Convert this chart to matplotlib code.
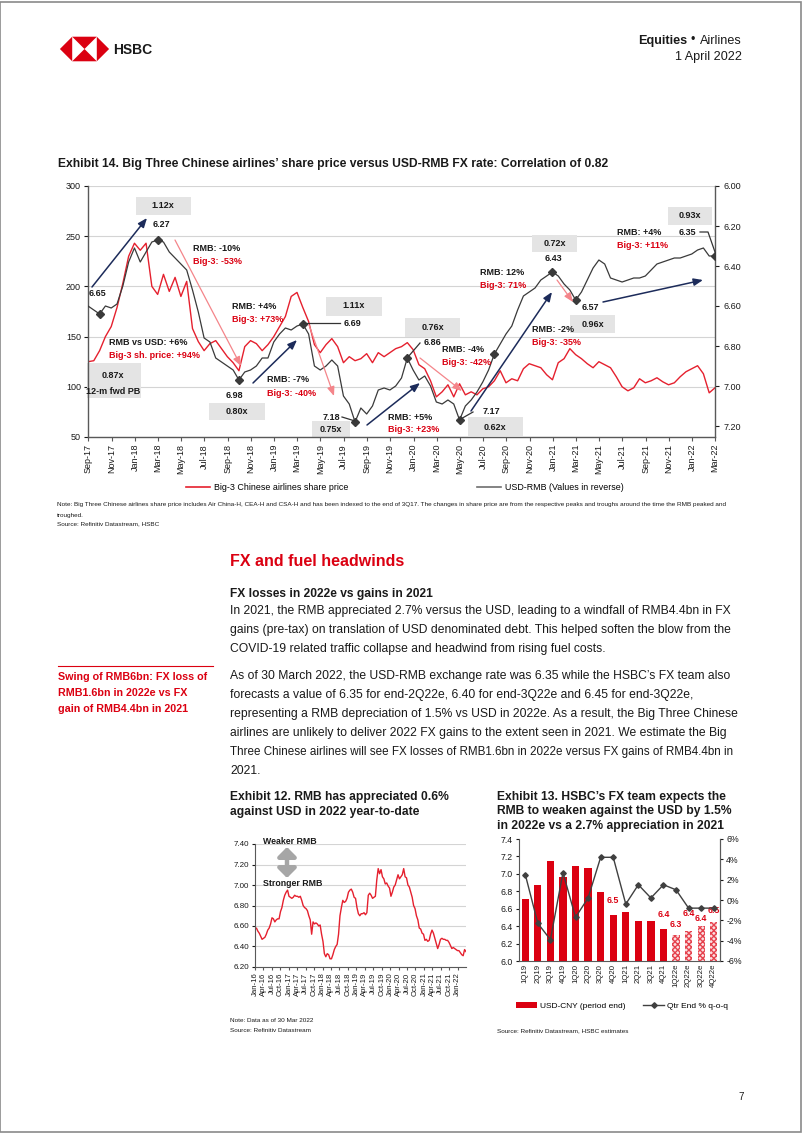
import matplotlib
matplotlib.use('Agg')
import matplotlib.pyplot as plt
import matplotlib.ticker as mticker
from matplotlib.patches import Polygon, Rectangle, Patch
from matplotlib.lines import Line2D
from matplotlib.textpath import TextPath
from matplotlib.font_manager import FontProperties
import numpy as np
import pandas as pd

# ======================= DATA =======================
# Exhibit 14: Big-3 share price (indexed) and USD-RMB, end-Sep-17 .. end-Mar-22 (semi-monthly)
share_price = [125, 126, 136, 150, 160, 179, 203, 230, 243, 236,
               243, 200, 192, 212, 195, 209, 190, 205, 158, 145,
               136, 143, 146, 138, 130, 124, 116, 140, 146, 143,
               136, 142, 150, 160, 170, 190, 194, 179, 165, 142,
               134, 142, 148, 140, 124, 130, 126, 128, 133, 124,
               134, 130, 134, 138, 140, 144, 137, 122, 118, 106,
               90, 95, 102, 90, 103, 92, 95, 92, 98, 100,
               106, 116, 104, 108, 106, 118, 123, 121, 119, 112,
               107, 124, 128, 138, 132, 128, 123, 119, 125, 122,
               119, 110, 100, 96, 99, 108, 104, 106, 109, 105,
               102, 104, 110, 115, 118, 121, 113, 94, 99]
usd_rmb = [6.60, 6.62, 6.64, 6.60, 6.61, 6.59, 6.50, 6.38, 6.31, 6.38,
           6.33, 6.28, 6.27, 6.28, 6.33, 6.36, 6.39, 6.42, 6.52, 6.63,
           6.76, 6.78, 6.86, 6.88, 6.90, 6.92, 6.97, 6.93, 6.92, 6.90,
           6.86, 6.86, 6.78, 6.74, 6.71, 6.72, 6.70, 6.69, 6.74, 6.90,
           6.92, 6.90, 6.87, 6.90, 7.05, 7.09, 7.18, 7.11, 7.14, 7.10,
           7.02, 7.01, 7.02, 7.00, 6.96, 6.86, 6.92, 6.97, 6.95, 7.00,
           7.08, 7.09, 7.07, 7.09, 7.17, 7.10, 7.07, 7.03, 6.98, 6.92,
           6.84, 6.79, 6.74, 6.70, 6.62, 6.55, 6.53, 6.51, 6.47, 6.45,
           6.43, 6.45, 6.49, 6.52, 6.57, 6.53, 6.47, 6.41, 6.37, 6.39,
           6.46, 6.47, 6.48, 6.47, 6.46, 6.46, 6.45, 6.42, 6.39, 6.38,
           6.37, 6.36, 6.36, 6.35, 6.34, 6.32, 6.31, 6.35, 6.35]
ex14_start, ex14_end = '2017-09-29', '2022-03-31'
diamond_idx = [2, 12, 26, 37, 46, 55, 64, 70, 80, 84, 108]

# Exhibit 12: USD-CNY, Jan-16 .. Mar-22 (semi-monthly)
ex12_usdcny = [6.57, 6.58, 6.55, 6.53, 6.50, 6.47, 6.48, 6.49, 6.52, 6.56, 6.58, 6.62,
               6.68, 6.67, 6.64, 6.66, 6.67, 6.67, 6.74, 6.78, 6.85, 6.90, 6.93, 6.95,
               6.89, 6.88, 6.87, 6.88, 6.90, 6.89, 6.89, 6.88, 6.89, 6.85, 6.80, 6.78,
               6.77, 6.75, 6.70, 6.66, 6.52, 6.64, 6.62, 6.63, 6.62, 6.60, 6.61, 6.52,
               6.45, 6.33, 6.30, 6.33, 6.32, 6.28, 6.28, 6.32, 6.37, 6.40, 6.42, 6.52,
               6.70, 6.78, 6.85, 6.83, 6.84, 6.87, 6.93, 6.95, 6.96, 6.93, 6.88, 6.87,
               6.78, 6.72, 6.70, 6.72, 6.72, 6.73, 6.71, 6.73, 6.90, 6.92, 6.90, 6.87,
               6.88, 6.89, 7.05, 7.16, 7.11, 7.15, 7.08, 7.06, 7.01, 7.02, 6.99, 6.97,
               6.89, 6.93, 6.98, 7.00, 7.05, 7.10, 7.06, 7.08, 7.10, 7.16, 7.08, 7.07,
               7.00, 6.98, 6.93, 6.88, 6.80, 6.77, 6.70, 6.66, 6.58, 6.57, 6.53, 6.52,
               6.46, 6.47, 6.45, 6.46, 6.52, 6.56, 6.53, 6.48, 6.43, 6.38, 6.42, 6.47,
               6.48, 6.47, 6.47, 6.46, 6.46, 6.44, 6.41, 6.38, 6.39, 6.38, 6.37, 6.36,
               6.36, 6.34, 6.32, 6.31, 6.37, 6.35]
ex12_start, ex12_end = '2016-01-01', '2022-03-31'

# Exhibit 13: quarter-end USD-CNY and q-o-q change
quarters = ['1Q19', '2Q19', '3Q19', '4Q19', '1Q20', '2Q20', '3Q20', '4Q20',
            '1Q21', '2Q21', '3Q21', '4Q21', '1Q22e', '2Q22e', '3Q22e', '4Q22e']
usd_cny_qe = [6.71, 6.87, 7.15, 6.96, 7.09, 7.07, 6.79, 6.53,
              6.56, 6.46, 6.46, 6.37, 6.30, 6.35, 6.40, 6.45]
qoq_pct = [2.5, -2.3, -3.9, 2.7, -1.7, 0.2, 4.2, 4.2,
           -0.4, 1.5, 0.2, 1.5, 1.0, -0.8, -0.8, -0.8]
bar_value_labels = ['', '', '', '', '', '', '', '6.5',
                    '', '', '', '6.4', '6.3', '6.4', '6.4', '6.5']
n_actual = 12

# ======================= STYLE / LAYOUT =======================
W, H, DPI = 802, 1133, 100
BASE = ['Liberation Sans', 'DejaVu Sans']
plt.rcParams['font.family'] = BASE
RED = '#db0011'
LRED = '#e5202e'
NAVY = '#1c2b5a'
SALMON = '#f4858a'
BOX = '#e4e4e4'
TXT = '#1a1a1a'
AXC = '#595959'

fig = plt.figure(figsize=(W / DPI, H / DPI), dpi=DPI)
fig.patch.set_facecolor('white')


def fx(px):
    return px / W


def fy(py):
    return 1 - py / H


def ftext(px, py, s, **kw):
    kw.setdefault('va', 'center')
    kw.setdefault('color', TXT)
    return fig.text(fx(px), fy(py), s, **kw)


def add_axes_px(l, t, r, b):
    return fig.add_axes([fx(l), fy(b), (r - l) / W, (b - t) / H])


def fit(text, target_px, weight='normal'):
    fp = FontProperties(family=BASE, weight=weight, size=10)
    w = TextPath((0, 0), text, prop=fp).get_extents().width
    return 10 * target_px / (w * DPI / 72)


# page border
fig.add_artist(Rectangle((0.0005, 0.0005), 0.998, 0.998, transform=fig.transFigure,
                         fill=False, edgecolor='#8a8a8a', lw=1.2))

# ---------------- header ----------------
cx, cy, s = 84.5, 49, 12.3
tris = [[(cx - s, cy - s), (cx - s, cy + s), (cx - 2 * s, cy)],
        [(cx + s, cy - s), (cx + s, cy + s), (cx + 2 * s, cy)],
        [(cx - s, cy - s), (cx + s, cy - s), (cx, cy)],
        [(cx - s, cy + s), (cx + s, cy + s), (cx, cy)]]
for t in tris:
    fig.add_artist(Polygon([(fx(a), fy(b)) for a, b in t], closed=True,
                           transform=fig.transFigure, facecolor=RED, edgecolor='none'))
ftext(113, 49.5, 'HSBC', fontsize=fit('HSBC', 38, 'bold'), fontweight='bold', ha='left')
hs = fit('1 April 2022', 65)
ftext(742, 41, 'Airlines', fontsize=hs, ha='right')
ftext(693, 40.5, '\u2022', fontsize=hs, ha='center')
ftext(687, 41, 'Equities', fontsize=hs, ha='right', fontweight='bold')
ftext(742, 57, '1 April 2022', fontsize=hs, ha='right')

# ---------------- Exhibit 14 ----------------
t14 = 'Exhibit 14. Big Three Chinese airlines\u2019 share price versus USD-RMB FX rate: Correlation of 0.82'
ftext(58, 164, t14, fontsize=fit(t14, 547, 'bold'), fontweight='bold', ha='left')

L14, R14, T14, B14 = 88, 715, 186, 437
ax1 = add_axes_px(L14, T14, R14, B14)
d14 = pd.date_range(ex14_start, ex14_end, periods=len(share_price))
l_red, = ax1.plot(d14, share_price, color=LRED, lw=1.0, zorder=2.5)
ax1.set_xlim(d14[0], d14[-1])
ax1.set_ylim(50, 300)
ax1.set_yticks(range(50, 301, 50))
ax1.grid(axis='y', color='#d4d4d4', lw=0.8, zorder=0.5)
ax1.set_axisbelow(True)
xt = pd.date_range('2017-09-30', '2022-03-31', freq='2ME')
ax1.set_xticks(xt)
ax1.set_xticklabels([d.strftime('%b-%y') for d in xt], rotation=90, fontsize=6.5, color=TXT)
ax1.tick_params(axis='y', labelsize=6.5, colors=TXT, length=3, width=0.8, pad=2)
ax1.tick_params(axis='x', length=3, width=0.8, pad=2, color=AXC)
for sp in ['top', 'right']:
    ax1.spines[sp].set_visible(False)
for sp in ['left', 'bottom']:
    ax1.spines[sp].set_color(AXC)
    ax1.spines[sp].set_linewidth(1.0)

ax2 = ax1.twinx()
l_blk, = ax2.plot(d14, usd_rmb, color='#3a3a3a', lw=0.9, zorder=3)
ax2.plot(d14[diamond_idx], np.array(usd_rmb)[diamond_idx], 'D', color='#3a3a3a',
         ms=3.8, zorder=4)
ax2.set_ylim(7.255, 6.0)
ax2.set_yticks(np.round(np.arange(6.0, 7.21, 0.2), 2))
ax2.yaxis.set_major_formatter(mticker.FormatStrFormatter('%.2f'))
ax2.tick_params(axis='y', labelsize=6.5, colors=TXT, length=3, width=0.8, pad=3)
for sp in ['top', 'left', 'bottom']:
    ax2.spines[sp].set_visible(False)
ax2.spines['right'].set_color(AXC)
ax2.spines['right'].set_linewidth(1.0)


def A(px, py):
    return ((px - L14) / (R14 - L14), (B14 - py) / (B14 - T14))


def box(x0, y0, x1, y1):
    a = A(x0, y1)
    ax1.add_patch(Rectangle(a, (x1 - x0) / (R14 - L14), (y1 - y0) / (B14 - T14),
                            transform=ax1.transAxes, facecolor=BOX, edgecolor='none',
                            zorder=1.6, clip_on=False))


def lab(px, py, s, color=TXT, ha='center', size=6.5):
    ax2.text(*A(px, py), s, transform=ax2.transAxes, ha=ha, va='center', color=color,
             fontsize=size, fontweight='bold', zorder=6, clip_on=False)


def arrow(p0, p1, color, lw=1.1):
    ax2.annotate('', xy=A(*p1), xytext=A(*p0), xycoords='axes fraction',
                 textcoords='axes fraction', zorder=5,
                 arrowprops=dict(arrowstyle='-|>,head_length=0.55,head_width=0.22',
                                 color=color, lw=lw, shrinkA=0, shrinkB=0))


def leader(pts):
    xs, ys = zip(*[A(a, b) for a, b in pts])
    ax2.plot(xs, ys, color='#333333', lw=0.9, transform=ax2.transAxes, clip_on=False, zorder=5)


# grey multiple boxes
for (x0, y0, x1, y1), txt, tx, ty in [
        ((136, 197, 191, 215), '1.12x', 163, 206),
        ((87, 363, 141, 398), '0.87x', 113, 376),
        ((209, 403, 265, 420), '0.80x', 237, 411),
        ((326, 297, 382, 316), '1.11x', 354, 306),
        ((312, 421, 350, 437), '0.75x', 331, 430),
        ((405, 318, 460, 337), '0.76x', 433, 328),
        ((468, 417, 523, 436), '0.62x', 495, 427),
        ((532, 235, 577, 252), '0.72x', 555, 244),
        ((570, 315, 615, 333), '0.96x', 593, 325),
        ((668, 207, 712, 225), '0.93x', 690, 216)]:
    box(x0, y0, x1, y1)
    lab(tx, ty, txt)
lab(113, 391, '12-m fwd PB')

# FX level labels
for tx, ty, txt in [(97, 294, '6.65'), (161, 225, '6.27'), (234, 395, '6.98'),
                    (353, 324, '6.69'), (331, 417, '7.18'), (433, 343, '6.86'),
                    (491, 412, '7.17'), (553, 259, '6.43'), (590, 308, '6.57'),
                    (687, 233, '6.35')]:
    lab(tx, ty, txt)
leader([(303, 323), (340, 323)])
leader([(342, 417), (355, 421)])
leader([(420, 343), (408, 357)])
leader([(473, 412), (459, 420)])
leader([(700, 232), (708, 232), (715, 252)])

# change labels
for tx, ty, r, b in [(193, 249, 'RMB: -10%', 'Big-3: -53%'),
                     (232, 307, 'RMB: +4%', 'Big-3: +73%'),
                     (109, 343, 'RMB vs USD: +6%', 'Big-3 sh. price: +94%'),
                     (267, 380, 'RMB: -7%', 'Big-3: -40%'),
                     (388, 417, 'RMB: +5%', 'Big-3: +23%'),
                     (442, 350, 'RMB: -4%', 'Big-3: -42%'),
                     (480, 273, 'RMB: 12%', 'Big-3: 71%'),
                     (532, 330, 'RMB: -2%', 'Big-3: -35%'),
                     (617, 233, 'RMB: +4%', 'Big-3: +11%')]:
    lab(tx, ty, r, ha='left')
    lab(tx, ty + 13, b, color=RED, ha='left')

# arrows
arrow((92, 287), (147, 218), NAVY)
arrow((253, 383), (297, 340), NAVY)
arrow((367, 425), (420, 383), NAVY)
arrow((471, 411), (552, 292), NAVY)
arrow((603, 302), (703, 280), NAVY)
arrow((175, 240), (241, 366), SALMON, lw=0.9)
arrow((309, 325), (334, 396), SALMON, lw=0.9)
arrow((420, 358), (462, 391), SALMON, lw=0.9)
arrow((557, 280), (573, 302), SALMON, lw=0.9)

lg_fs = fit('Big-3 Chinese airlines share price', 131)
em = lg_fs * DPI / 72
h_red = Line2D([], [], color=LRED, lw=1.2)
h_blk = Line2D([], [], color='#6e6e6e', lw=1.2)
ax1.legend([h_red, h_blk], ['Big-3 Chinese airlines share price', 'USD-RMB (Values in reverse)'],
           loc='center', bbox_to_anchor=A(405, 488), ncol=2, frameon=False, fontsize=lg_fs,
           handlelength=24 / em, handletextpad=4 / em, columnspacing=129 / em,
           borderpad=0, borderaxespad=0)

note1 = ('Note: Big Three Chinese airlines share price includes Air China-H, CEA-H and CSA-H and has been '
         'indexed to the end of 3Q17. The changes in share price are from the respective peaks and troughs '
         'around the time the RMB peaked and')
nfs = fit(note1, 666)
ftext(57, 505, note1, fontsize=nfs, ha='left')
ftext(57, 515, 'troughed.', fontsize=nfs, ha='left')
ftext(57, 524, 'Source: Refinitiv Datastream, HSBC', fontsize=nfs, ha='left')

# ---------------- text section ----------------
ftext(230, 561, 'FX and fuel headwinds', fontsize=fit('FX and fuel headwinds', 172, 'bold'),
      fontweight='bold', color=RED, ha='left')
ftext(230, 594, 'FX losses in 2022e vs gains in 2021',
      fontsize=fit('FX losses in 2022e vs gains in 2021', 202, 'bold'), fontweight='bold', ha='left')
# (line, right edge of the line in the page) -- full lines are fitted to their measured extent
body1 = [('In 2021, the RMB appreciated 2.7% versus the USD, leading to a windfall of RMB4.4bn in FX', 727),
         ('gains (pre-tax) on translation of USD denominated debt. This helped soften the blow from the', 727),
         ('COVID-19 related traffic collapse and headwind from rising fuel costs.', None)]
body2 = [('As of 30 March 2022, the USD-RMB exchange rate was 6.35 while the HSBC\u2019s FX team also', 727),
         ('forecasts a value of 6.35 for end-2Q22e, 6.40 for end-3Q22e and 6.45 for end-3Q22e,', None),
         ('representing a RMB depreciation of 1.5% vs USD in 2022e. As a result, the Big Three Chinese', 735),
         ('airlines are unlikely to deliver 2022 FX gains to the extent seen in 2021. We estimate the Big', 723),
         ('Three Chinese airlines will see FX losses of RMB1.6bn in 2022e versus FX gains of RMB4.4bn in', 729),
         ('2021.', None)]
bfs = fit(body1[0][0], 497)


def body_line(px, py, line, right):
    size = bfs if right is None else fit(line, right - px)
    ftext(px, py, line, fontsize=size, ha='left')


for i, (line, r) in enumerate(body1):
    body_line(230, 611 + 19 * i, line, r)
for i, (line, r) in enumerate(body2):
    body_line(230, 676 + 19 * i, line, r)

fig.add_artist(Line2D([fx(58), fx(213)], [fy(666), fy(666)], color=RED, lw=0.8,
                      transform=fig.transFigure))
margin = ['Swing of RMB6bn: FX loss of', 'RMB1.6bn in 2022e vs FX', 'gain of RMB4.4bn in 2021']
mfs = fit(margin[0], 149, 'bold')
for i, line in enumerate(margin):
    ftext(58, 677 + 16 * i, line, fontsize=mfs, ha='left', fontweight='bold', color=RED)

# ---------------- Exhibit 12 ----------------
e12 = ['Exhibit 12. RMB has appreciated 0.6%', 'against USD in 2022 year-to-date']
e12fs = fit(e12[0], 217, 'bold')
for i, line in enumerate(e12):
    ftext(230, 797 + 15.5 * i, line, fontsize=e12fs, fontweight='bold', ha='left')

L12, R12, T12, B12 = 255, 466, 844, 967
ax12 = add_axes_px(L12, T12, R12, B12)
d12 = pd.date_range(ex12_start, ex12_end, periods=len(ex12_usdcny))
ax12.plot(d12, ex12_usdcny, color=LRED, lw=1.0)
ax12.set_xlim(pd.Timestamp(ex12_start), pd.Timestamp(ex12_end))
ax12.set_ylim(6.2, 7.4)
ax12.set_yticks(np.round(np.arange(6.2, 7.41, 0.2), 2))
ax12.yaxis.set_major_formatter(mticker.FormatStrFormatter('%.2f'))
ax12.grid(axis='y', color='#d4d4d4', lw=0.8)
ax12.set_axisbelow(True)
xt12 = pd.date_range('2016-01-01', '2022-01-01', freq='QS')
ax12.set_xticks(xt12)
ax12.set_xticklabels([d.strftime('%b-%y') for d in xt12], rotation=90, fontsize=5.6, color=TXT)
ax12.tick_params(axis='y', labelsize=5.8, colors=TXT, length=2.5, width=0.8, pad=2)
ax12.tick_params(axis='x', length=2.5, width=0.8, pad=1.5, color=AXC)
for sp in ['top', 'right']:
    ax12.spines[sp].set_visible(False)
for sp in ['left', 'bottom']:
    ax12.spines[sp].set_color(AXC)


def A12(px, py):
    return ((px - L12) / (R12 - L12), (B12 - py) / (B12 - T12))


ax12.text(*A12(263, 841), 'Weaker RMB', transform=ax12.transAxes, fontsize=6.3,
          fontweight='bold', ha='left', va='center', color=TXT, clip_on=False)
ax12.text(*A12(263, 884), 'Stronger RMB', transform=ax12.transAxes, fontsize=6.3,
          fontweight='bold', ha='left', va='center', color=TXT, clip_on=False)
ax12.annotate('', xy=A12(287, 847), xytext=A12(287, 878), xycoords='axes fraction',
              textcoords='axes fraction',
              arrowprops=dict(arrowstyle='<|-|>,head_length=0.55,head_width=0.55',
                              color='#a6a6a6', lw=3.2, shrinkA=0, shrinkB=0,
                              mutation_scale=10))
ftext(230, 1021, 'Note: Data as of 30 Mar 2022', fontsize=nfs, ha='left')
ftext(230, 1031, 'Source: Refinitiv Datastream', fontsize=nfs, ha='left')

# ---------------- Exhibit 13 ----------------
e13 = ['Exhibit 13. HSBC\u2019s FX team expects the', 'RMB to weaken against the USD by 1.5%',
       'in 2022e vs a 2.7% appreciation in 2021']
e13fs = fit(e13[0], 228, 'bold')
for i, line in enumerate(e13):
    ftext(497, 797 + 14.3 * i, line, fontsize=e13fs, fontweight='bold', ha='left')

L13, R13, T13, B13 = 519, 720, 839, 961
ax13 = add_axes_px(L13, T13, R13, B13)
xq = np.arange(len(quarters))
b_act = ax13.bar(xq[:n_actual], usd_cny_qe[:n_actual], width=0.58, color=RED, zorder=2)
b_fc = ax13.bar(xq[n_actual:], usd_cny_qe[n_actual:], width=0.58, facecolor='#fbdfe1',
                edgecolor='#e5414d', hatch='xxxxxx', linewidth=0, zorder=2)
ax13.set_xlim(-0.5, len(quarters) - 0.5)
ax13.set_ylim(6.0, 7.4)
ax13.set_yticks(np.round(np.arange(6.0, 7.41, 0.2), 1))
ax13.yaxis.set_major_formatter(mticker.FormatStrFormatter('%.1f'))
ax13.set_xticks(xq)
ax13.set_xticklabels(quarters, rotation=90, fontsize=5.6, color=TXT)
ax13.tick_params(axis='y', labelsize=6.3, colors=TXT, length=2.5, width=0.8, pad=2)
ax13.tick_params(axis='x', length=0, pad=2)
ax13.spines['top'].set_visible(False)
for sp in ['left', 'bottom', 'right']:
    ax13.spines[sp].set_color(AXC)
label_offsets = [0, 0, 0, 0, 0, 0, 0, 7, 0, 0, 0, 7, 4, 9, 2, 5]
for i, txt in enumerate(bar_value_labels):
    if txt:
        ax13.annotate(txt, (xq[i], usd_cny_qe[i]), xytext=(0, label_offsets[i]),
                      textcoords='offset points', ha='center', va='bottom', color=RED,
                      fontsize=6.3, fontweight='bold', zorder=5)
ax13b = ax13.twinx()
l_qoq, = ax13b.plot(xq, qoq_pct, color='#404040', lw=1.0, marker='D', ms=2.8, zorder=3)
ax13b.set_ylim(-6, 6)
ax13b.set_yticks(range(-6, 7, 2))
ax13b.yaxis.set_major_formatter(mticker.FuncFormatter(lambda v, p: f'{v:.0f}%'))
ax13b.tick_params(axis='y', labelsize=6.3, colors=TXT, length=2.5, width=0.8, pad=2)
for sp in ['top', 'left', 'bottom']:
    ax13b.spines[sp].set_visible(False)
ax13b.spines['right'].set_color(AXC)

lg13 = fit('USD-CNY (period end)', 84)
em13 = lg13 * DPI / 72
ax13.legend([Patch(facecolor=RED), Line2D([], [], color='#404040', lw=1, marker='D', ms=2.8)],
            ['USD-CNY (period end)', 'Qtr End % q-o-q'], loc='center',
            bbox_to_anchor=((622 - L13) / (R13 - L13), (B13 - 1006) / (B13 - T13)),
            ncol=2, frameon=False, fontsize=lg13, handlelength=21 / em13,
            handleheight=0.6, handletextpad=3 / em13, columnspacing=18 / em13,
            borderpad=0, borderaxespad=0)
ftext(497, 1031, 'Source: Refinitiv Datastream, HSBC estimates', fontsize=nfs, ha='left')

# page number
ftext(741, 1097, '7', fontsize=7, ha='center')

fig.savefig('out.png', dpi=DPI)
